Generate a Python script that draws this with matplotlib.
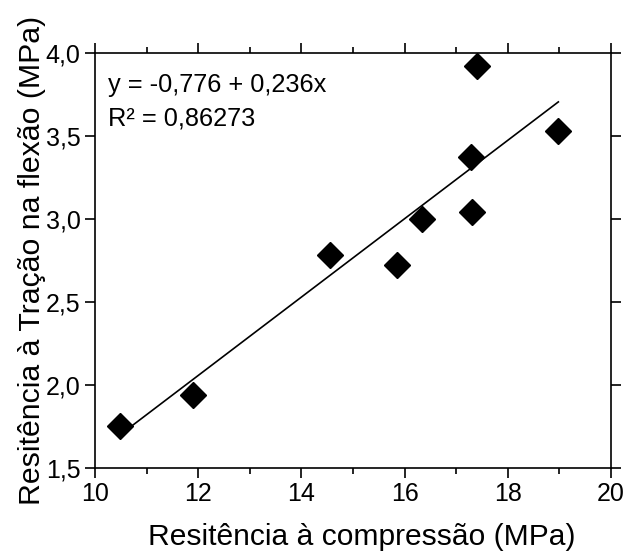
import matplotlib.pyplot as plt
from matplotlib.ticker import FuncFormatter, MultipleLocator

# dados
compressao = [10.48, 11.90, 14.55, 15.85, 16.34, 17.29, 17.31, 17.40, 18.98]
tracao = [1.75, 1.94, 2.78, 2.72, 3.00, 3.37, 3.04, 3.92, 3.53]
intercepto = -0.776
inclinacao = 0.236
r2_texto = '0,86273'

plt.rcParams['font.family'] = ['Liberation Sans', 'DejaVu Sans']

fig = plt.figure(figsize=(6.26, 5.51), dpi=100)
ax = fig.add_axes([0.1518, 0.151, 0.8242, 0.7535])

ax.plot(compressao, tracao, 'D', color='black', markersize=13, zorder=3)

x_min, x_max = min(compressao), max(compressao)
ax.plot([x_min, x_max], [intercepto + inclinacao * x_min, intercepto + inclinacao * x_max],
        color='black', linewidth=1.2)

ax.set_xlim(10, 20)
ax.set_ylim(1.5, 4.0)
ax.xaxis.set_major_locator(MultipleLocator(2))
ax.xaxis.set_minor_locator(MultipleLocator(1))
ax.yaxis.set_major_locator(MultipleLocator(0.5))
ax.yaxis.set_major_formatter(FuncFormatter(lambda v, p: f'{v:.1f}'.replace('.', ',')))

ax.tick_params(which='both', direction='out', top=True, right=True, width=1.2,
               labeltop=False, labelright=False, labelsize=18)
ax.tick_params(which='major', length=7)
ax.tick_params(which='minor', length=4)
for s in ax.spines.values():
    s.set_linewidth(1.2)

ax.set_xlabel('Resitência à compressão (MPa)', fontsize=21.6, labelpad=12)
ax.xaxis.label.set_x(0.516)
ax.set_ylabel('Resitência à Tração na flexão (MPa)', fontsize=21.8, labelpad=0)

ax.text(0.025, 0.95, f'y = {intercepto:.3f} + {inclinacao:.3f}x'.replace('.', ','),
        transform=ax.transAxes, fontsize=18.3, va='top')
ax.text(0.025, 0.87, f'R² = {r2_texto}', transform=ax.transAxes, fontsize=18.3, va='top')

fig.savefig('out.png', dpi=100)
